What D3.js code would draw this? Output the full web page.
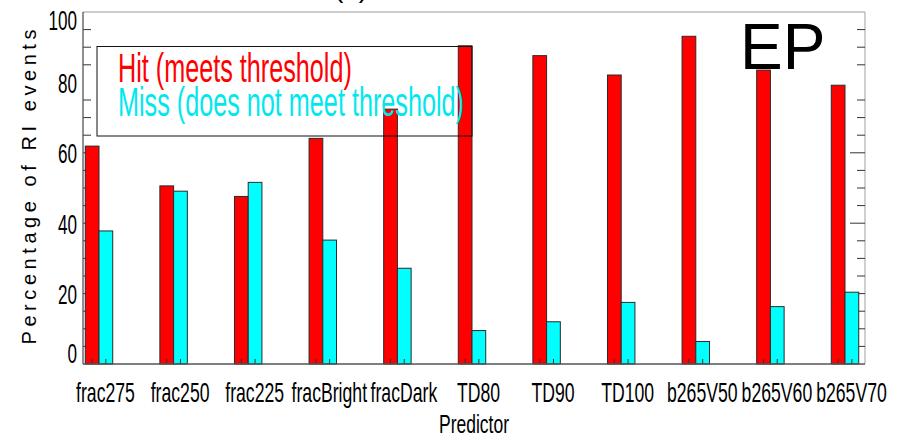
<!DOCTYPE html>
<html>
<head>
<meta charset="utf-8">
<script src="https://cdn.jsdelivr.net/npm/d3@7"></script>
<style>
  html, body { margin: 0; padding: 0; background: #fff; }
  svg { display: block; font-family: "Liberation Sans", Arial, sans-serif; }
</style>
</head>
<body>
<svg id="chart" width="899" height="436"></svg>
<script>
// Predictors and the share of RI events per outcome (%)
const categories = ["frac275", "frac250", "frac225", "fracBright", "fracDark",
                    "TD80", "TD90", "TD100", "b265V50", "b265V60", "b265V70"];
const hitValues  = [61.9, 50.6, 47.6, 64.1, 72.4, 90.4, 87.6, 82.1, 93.1, 83.5, 79.2];
const missValues = [37.8, 49.1, 51.6, 35.2, 27.2, 9.5, 12.0, 17.5, 6.4, 16.3, 20.4];
const seriesNames = ["Hit (meets threshold)", "Miss (does not meet threshold)"];
const yTickValues = [0, 20, 40, 60, 80, 100];
const yMinorTicks = [5, 10, 15, 20, 25, 30, 35, 40, 45, 50, 55, 60, 65, 70, 75, 85, 90, 95];
const yMajorRight = [40, 60];

const svg = d3.select("#chart");
const box = { left: 83, right: 865, top: 12, bottom: 364 };

const x = d3.scalePoint().domain(categories).range([99, 845]);
const barW = x.step() * 0.184;
const y = d3.scaleLinear().domain([0, 100]).range([box.bottom, box.top]);

// Horizontally condensed lettering
function squeeze(sel, factor) {
  sel.each(function () {
    const w = this.getComputedTextLength();
    d3.select(this).attr("textLength", w * factor).attr("lengthAdjust", "spacingAndGlyphs");
  });
}

// Title, mostly above the visible area
svg.append("text").attr("x", 351).attr("y", -3).attr("text-anchor", "middle")
  .attr("font-size", 28).attr("fill", "#000").text("(b)");

// Frame: grey top and right edges
svg.append("line").attr("x1", box.left).attr("x2", box.right).attr("y1", box.top).attr("y2", box.top)
  .attr("stroke", "#9a9a9a").attr("stroke-width", 1.2);
svg.append("line").attr("x1", box.right).attr("x2", box.right).attr("y1", box.top).attr("y2", box.bottom)
  .attr("stroke", "#b0b0b0").attr("stroke-width", 1.2);

// Minor ticks on both vertical edges, pointing inward
const tickG = svg.append("g").attr("stroke", "#333").attr("stroke-width", 1);
tickG.selectAll("line.l").data(yMinorTicks).join("line").attr("class", "l")
  .attr("x1", box.left).attr("x2", box.left + 8)
  .attr("y1", d => y(d)).attr("y2", d => y(d));
tickG.selectAll("line.r").data(yMinorTicks).join("line").attr("class", "r")
  .attr("x1", d => box.right - (yMajorRight.includes(d) ? 15 : 8)).attr("x2", box.right)
  .attr("y1", d => y(d)).attr("y2", d => y(d));

// Bars
const bars = svg.append("g").attr("stroke", "#2a2a2a").attr("stroke-width", 1);
bars.selectAll("rect.hit").data(categories).join("rect").attr("class", "hit")
  .attr("x", d => x(d) - barW).attr("width", barW)
  .attr("y", (d, i) => y(hitValues[i])).attr("height", (d, i) => y(0) - y(hitValues[i]))
  .attr("fill", "#ff0000");
bars.selectAll("rect.miss").data(categories).join("rect").attr("class", "miss")
  .attr("x", d => x(d)).attr("width", barW)
  .attr("y", (d, i) => y(missValues[i])).attr("height", (d, i) => y(0) - y(missValues[i]))
  .attr("fill", "#00ffff");

// Small ticks at each bar centre along the base
const baseTicks = svg.append("g").attr("stroke", "#333").attr("stroke-width", 1);
categories.forEach(c => {
  [x(c) - barW / 2, x(c) + barW / 2].forEach(px => {
    baseTicks.append("line").attr("x1", px).attr("x2", px)
      .attr("y1", box.bottom).attr("y2", box.bottom - 5);
  });
});

// X axis
const xAxis = svg.append("g").attr("transform", `translate(0,${box.bottom})`)
  .call(d3.axisBottom(x).tickSize(0));
xAxis.select(".domain").attr("stroke", "#555").attr("stroke-width", 1.3)
  .attr("d", `M${box.left},0H${box.right}`);
xAxis.selectAll(".tick text")
  .attr("x", 6).attr("y", 38).attr("dy", 0)
  .attr("font-size", 28).attr("font-family", "Liberation Sans, Arial, sans-serif").attr("fill", "#000")
  .call(squeeze, 0.63);

// Y axis
const yAxis = svg.append("g").attr("transform", `translate(${box.left},0)`)
  .call(d3.axisLeft(y).tickValues(yTickValues).tickSize(0).tickPadding(6));
yAxis.select(".domain").attr("stroke", "#555").attr("stroke-width", 1.3)
  .attr("d", `M0,${box.top}V${box.bottom}`);
yAxis.selectAll(".tick text")
  .attr("font-size", 28).attr("font-family", "Liberation Sans, Arial, sans-serif").attr("fill", "#000")
  .attr("dy", d => d === 0 ? "-0.05em" : d === 100 ? "0.62em" : "0.36em")
  .call(squeeze, 0.61);

// Axis titles
svg.append("text").attr("x", 474).attr("y", 433).attr("text-anchor", "middle")
  .attr("font-size", 25).attr("fill", "#000").text("Predictor")
  .call(squeeze, 0.7);
svg.append("text").attr("transform", "translate(36,187) rotate(-90)").attr("text-anchor", "middle")
  .attr("font-size", 20).attr("fill", "#000")
  .attr("textLength", 315).attr("lengthAdjust", "spacing")
  .text("Percentage of RI events");

// Legend
const legend = svg.append("g");
legend.append("rect").attr("x", 97).attr("y", 46.5).attr("width", 375).attr("height", 89.5)
  .attr("fill", "none").attr("stroke", "#111").attr("stroke-width", 1);
legend.append("text").attr("x", 118).attr("y", 82).attr("font-size", 40)
  .attr("fill", "#ff0000").text(seriesNames[0]).call(squeeze, 0.63);
legend.append("text").attr("x", 118).attr("y", 116).attr("font-size", 40)
  .attr("fill", "#00e8ee").text(seriesNames[1]).call(squeeze, 0.63);

// Panel tag
svg.append("text").attr("x", 740).attr("y", 69).attr("font-size", 64)
  .attr("fill", "#000").text("EP");
</script>
</body>
</html>
